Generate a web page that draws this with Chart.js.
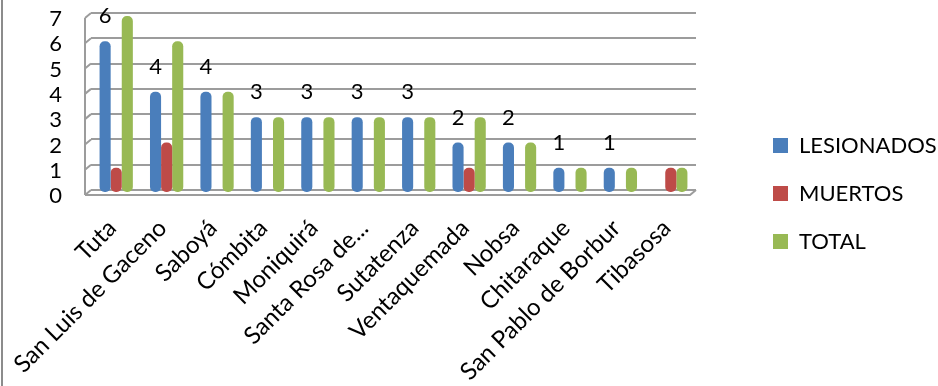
<!DOCTYPE html>
<html><head><meta charset="utf-8">
<script src="https://cdn.jsdelivr.net/npm/chart.js@4"></script>
<style>
html,body{margin:0;padding:0;background:#fff;}
#wrap{position:relative;width:938px;height:386px;overflow:hidden;}
#c{position:absolute;left:0;top:0;}
#edge{position:absolute;left:1px;top:0;width:2px;height:386px;background:#8c8c8c;}
</style></head><body>
<div id="wrap"><canvas id="c" width="938" height="386"></canvas><div id="edge"></div></div>
<script>
const categories = ['Tuta','San Luis de Gaceno','Saboyá','Cómbita','Moniquirá','Santa Rosa de...','Sutatenza','Ventaquemada','Nobsa','Chitaraque','San Pablo de Borbur','Tibasosa'];
const lesionados = [6,4,4,3,3,3,3,2,2,1,1,0];
const muertos    = [1,2,0,0,0,0,0,1,0,0,0,1];
const total      = [7,6,4,3,3,3,3,3,2,1,1,1];
const yTicks = [0,1,2,3,4,5,6,7];
const seriesNames = ['LESIONADOS','MUERTOS','TOTAL'];

const FONT = 'Lato';
const LEGEND_W = 242;   // width reserved for the legend
const LEGEND_X = 773;   // x of legend boxes
const LEGEND_SHIFT = -6;
const DEPTH_SHIFT = 3;  // bars sit slightly in front of the back wall

const layoutTweak = {
  id: 'layoutTweak',
  beforeLayout(chart) {
    const lg = chart.legend;
    if (lg && !lg._patched) {
      const f = lg.fit;
      lg.fit = function () { f.call(this); this.width = LEGEND_W; };
      lg._patched = true;
    }
  },
  afterLayout(chart) {
    const lg = chart.legend;
    if (!lg) return;
    lg.left = LEGEND_X - lg.options.labels.padding;
    lg.top += LEGEND_SHIFT; lg.bottom += LEGEND_SHIFT;
  }
};

const wall = {
  id: 'wall',
  beforeDatasetsDraw(chart) {
    const {ctx, chartArea: a, scales: {y}} = chart;
    const dx = 6, dy = 5;
    ctx.save();
    ctx.strokeStyle = '#9c9c9c';
    ctx.lineWidth = 2;
    ctx.beginPath();
    const yTop = y.getPixelForValue(yTicks[yTicks.length - 1]);
    const y0 = y.getPixelForValue(0);
    ctx.moveTo(a.left - dx, yTop + dy);
    ctx.lineTo(a.left - dx, y0 + dy);
    yTicks.forEach(v => {
      const p = y.getPixelForValue(v);
      ctx.moveTo(a.left - dx, p + dy);
      ctx.lineTo(a.left, p);
    });
    ctx.moveTo(a.left - dx, y0 + dy);
    ctx.lineTo(a.right - dx, y0 + dy);
    ctx.lineTo(a.right, y0);
    ctx.stroke();
    ctx.restore();
  }
};

const depth = {
  id: 'depth',
  beforeDatasetsDraw(chart) { chart.ctx.save(); chart.ctx.translate(0, DEPTH_SHIFT); },
  afterDatasetsDraw(chart) { chart.ctx.restore(); }
};

const valueLabels = {
  id: 'valueLabels',
  afterDatasetsDraw(chart) {
    const {ctx} = chart;
    const meta = chart.getDatasetMeta(0);
    ctx.save();
    ctx.fillStyle = '#000';
    ctx.font = `22px ${FONT}`;
    ctx.textAlign = 'center';
    ctx.textBaseline = 'middle';
    meta.data.forEach((bar, i) => {
      const v = lesionados[i];
      if (v > 0) ctx.fillText(String(v), bar.x, bar.y + DEPTH_SHIFT - 25);
    });
    ctx.restore();
  }
};

new Chart(document.getElementById('c'), {
  type: 'bar',
  data: {
    labels: categories,
    datasets: [
      {label: seriesNames[0], data: lesionados, backgroundColor: '#4a7ebb'},
      {label: seriesNames[1], data: muertos, backgroundColor: '#be4b48'},
      {label: seriesNames[2], data: total, backgroundColor: '#98b954'}
    ]
  },
  options: {
    responsive: false,
    animation: false,
    layout: {padding: {top: 13, left: 0, right: 0, bottom: 0}},
    datasets: {bar: {categoryPercentage: 0.66, barPercentage: 1.0, borderRadius: 5, borderSkipped: false}},
    plugins: {
      tooltip: {enabled: false},
      legend: {
        position: 'right',
        labels: {boxWidth: 15, boxHeight: 15, padding: 26, color: '#000', font: {family: FONT, size: 22}}
      }
    },
    scales: {
      x: {
        grid: {display: false, drawTicks: false},
        border: {display: false},
        ticks: {color: '#000', font: {family: FONT, size: 24}, minRotation: 45, maxRotation: 45, padding: 24, labelOffset: -4, autoSkip: false},
        afterFit(s) { s.height = 196; s.paddingLeft = 0; s.paddingRight = 0; }
      },
      y: {
        min: 0, max: 7,
        afterBuildTicks(s) { s.ticks = yTicks.map(v => ({value: v})); },
        grid: {color: '#9c9c9c', lineWidth: 2, drawTicks: false},
        border: {display: false},
        ticks: {color: '#000', font: {family: FONT, size: 22}, padding: 29, labelOffset: 6, autoSkip: false},
        afterFit(s) { s.width = 91; s.paddingTop = 0; s.paddingBottom = 0; }
      }
    }
  },
  plugins: [layoutTweak, wall, depth, valueLabels]
});
</script>
</body></html>
